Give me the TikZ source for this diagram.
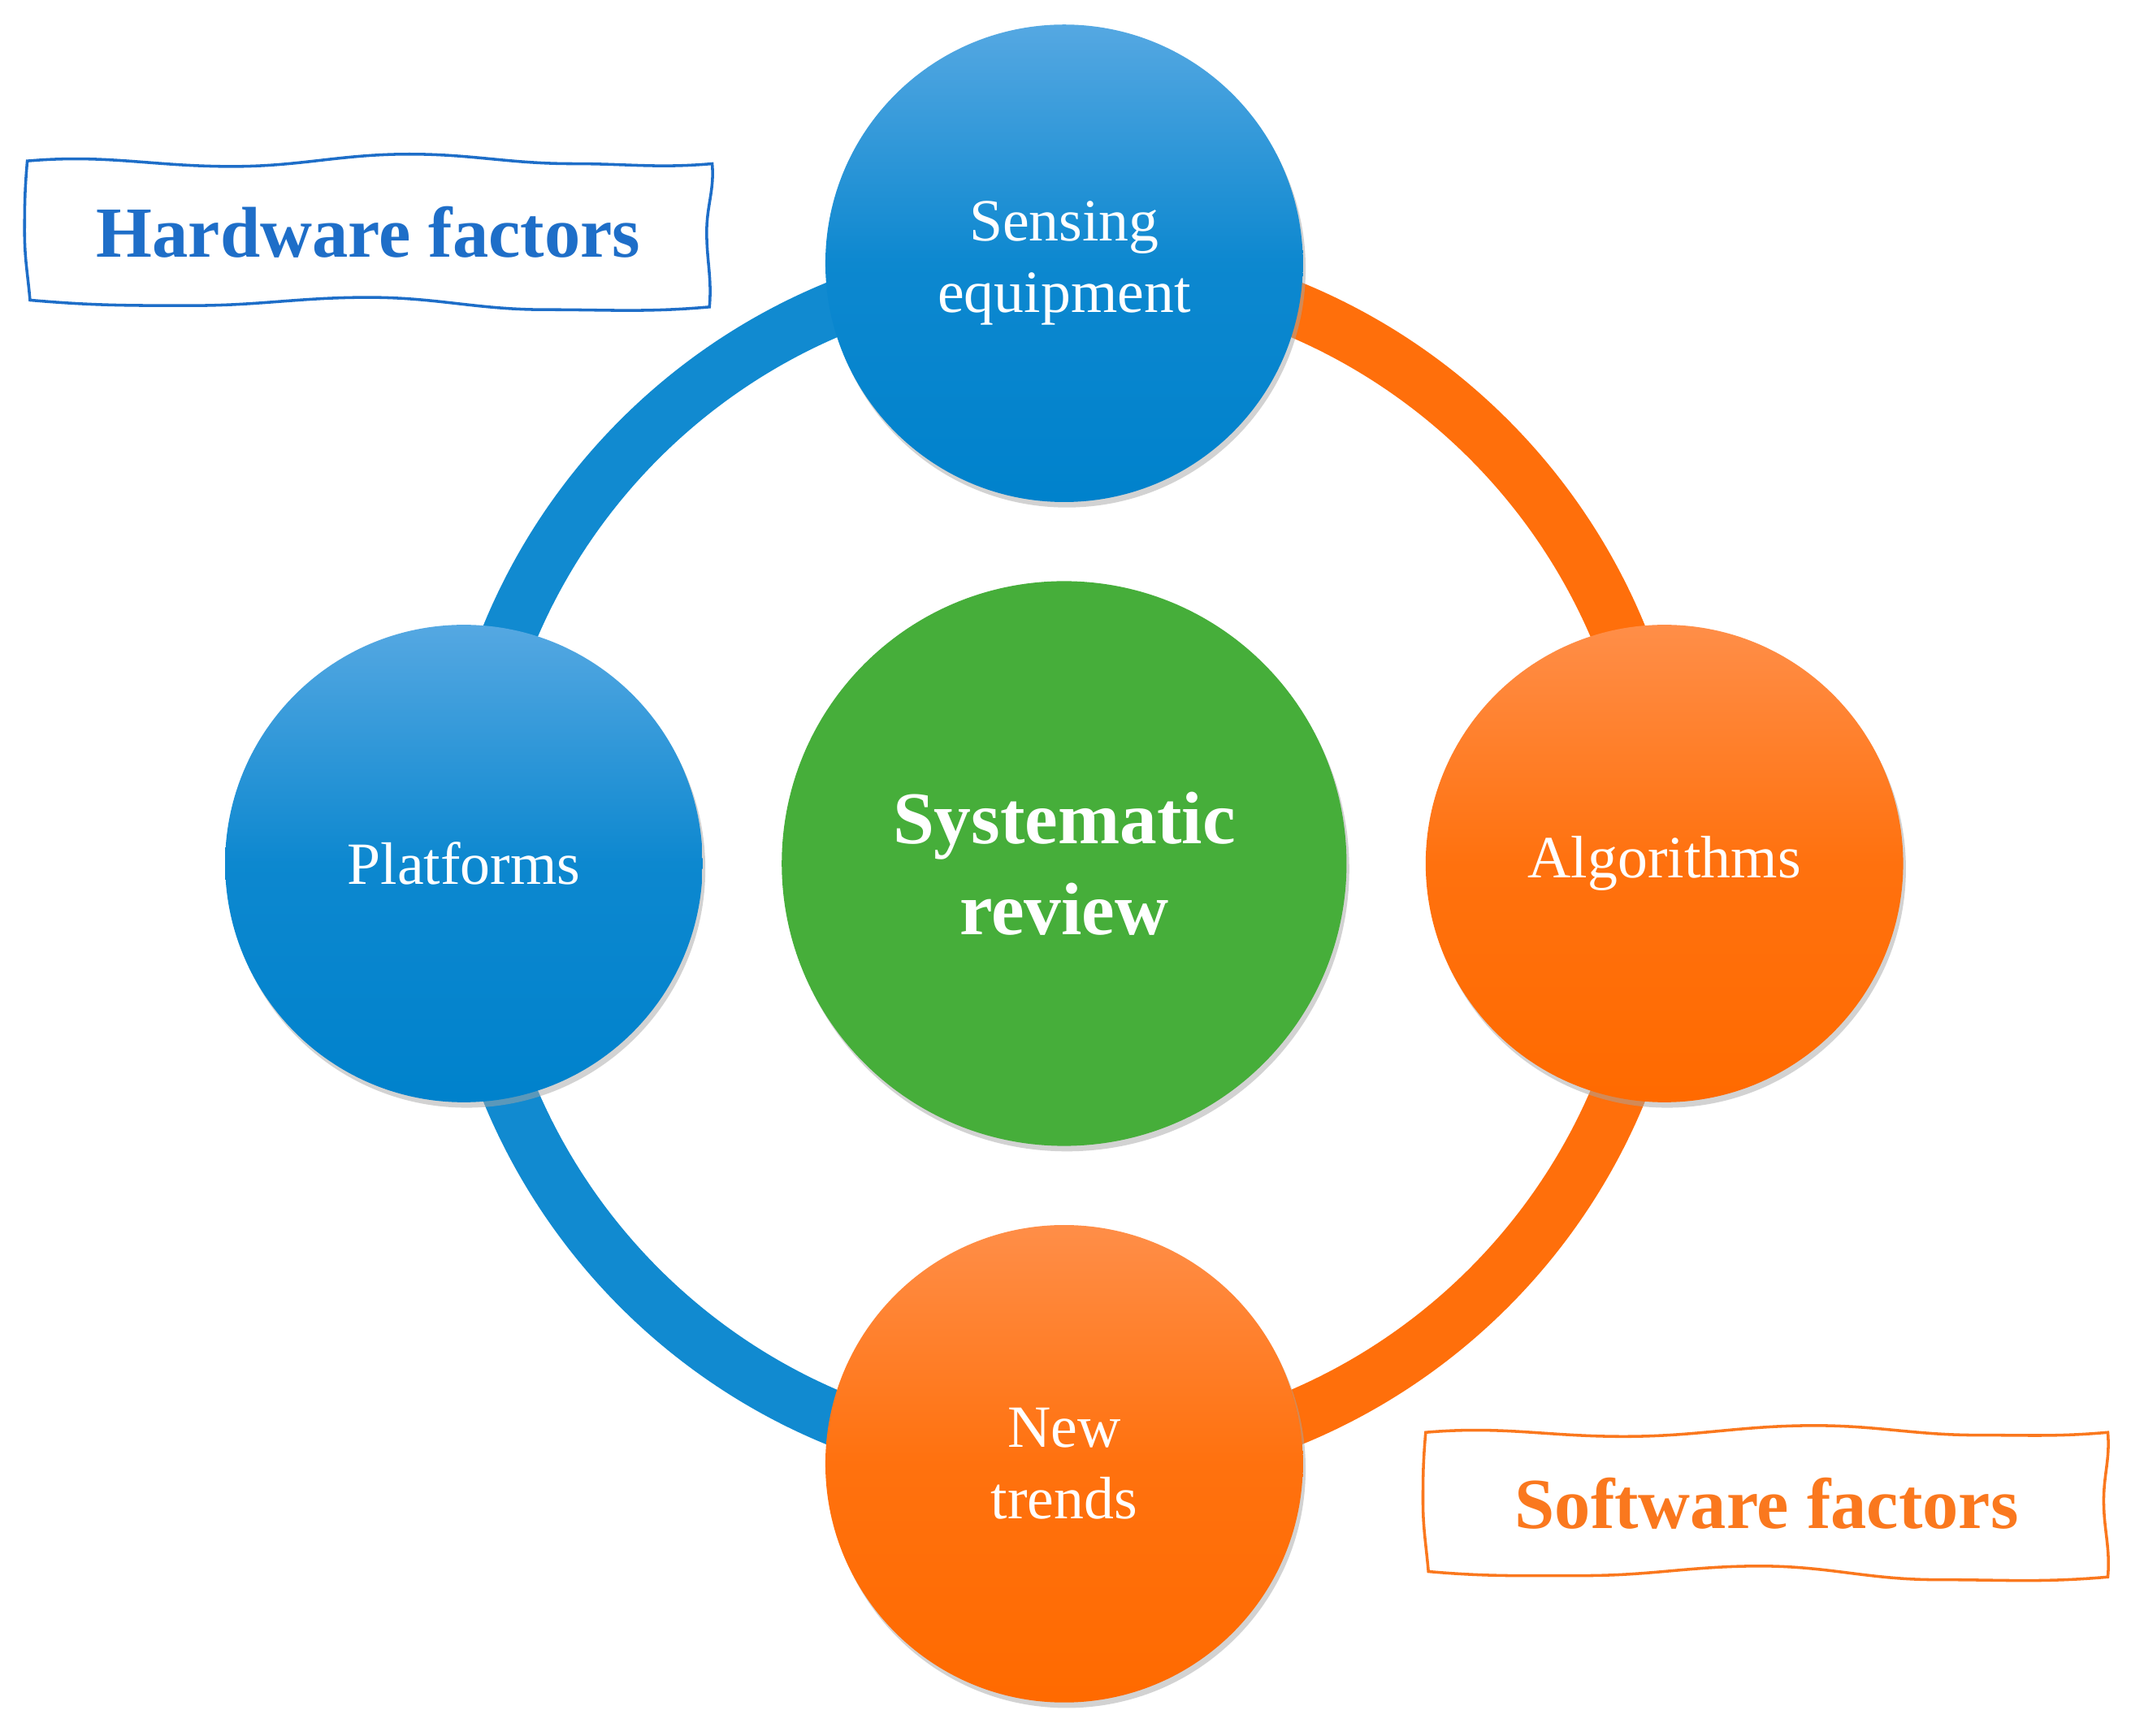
\documentclass[tikz,border=0pt]{standalone}
\usepackage{fontspec}
\setmainfont{Liberation Serif}
\usetikzlibrary{shadows}
\definecolor{bluetop}{RGB}{85,168,226}
\definecolor{bluebot}{RGB}{0,130,204}
\definecolor{orgtop}{RGB}{255,142,72}
\definecolor{orgbot}{RGB}{255,106,0}
\definecolor{grn}{RGB}{70,174,58}
\definecolor{hwblue}{RGB}{30,110,200}
\definecolor{swor}{RGB}{250,120,30}
\tikzset{
  ball/.style={circle,minimum size=350*0.02cm,inner sep=0pt,align=center,text=white,
     drop shadow={shadow xshift=0.04cm,shadow yshift=-0.08cm,fill=black!35,opacity=0.5},
     font=\fontsize{25}{30}\selectfont},
  bball/.style={ball,top color=bluetop,bottom color=bluebot,middle color=bluebot!85!bluetop},
  oball/.style={ball,top color=orgtop,bottom color=orgbot,middle color=orgbot!80!orgtop},
  lbl/.style={font=\fontsize{30}{36}\selectfont\bfseries}
}
\begin{document}
\begin{tikzpicture}[x=0.02cm,y=-0.02cm]
\useasboundingbox (0,0) rectangle (1562,1272);
% ring
\draw[line width=40*0.02cm,bluebot!80!bluetop] (780,193) arc[start angle=-90,end angle=-270,radius=440];
\draw[line width=40*0.02cm,orgbot!85!orgtop] (780,193) arc[start angle=-90,end angle=90,radius=440];
% nodes
\node[bball] (sense) at (780,193) {Sensing\\equipment};
\node[bball] (plat) at (340,633) {Platforms};
\node[oball] (alg) at (1220,633) {Algorithms};
\node[oball] (trend) at (780,1073) {New\\trends};
\node[ball,minimum size=414*0.02cm,fill=grn,font=\fontsize{31}{38}\selectfont\bfseries] (sys) at (780,633) {Systematic\\review};
% wavy boxes
\draw[hwblue,line width=1.2pt] (20,118) to[out=5,in=180] (170,122) to[out=0,in=180] (300,113) to[out=0,in=180] (420,120) to[out=0,in=185] (522,120)
  to[out=-85,in=90] (518,170) to[out=-90,in=85] (520,225)
  to[out=185,in=0] (400,227) to[out=180,in=0] (270,218) to[out=180,in=0] (140,224) to[out=180,in=-5] (22,220)
  to[out=95,in=-90] (18,170) to[out=90,in=-95] (20,118) -- cycle;
\node[lbl,text=hwblue] (hw) at (270,170) {Hardware factors};
\draw[swor,line width=1.2pt] (1045,1050) to[out=5,in=180] (1190,1053) to[out=0,in=180] (1330,1045) to[out=0,in=180] (1450,1052) to[out=0,in=185] (1545,1050)
  to[out=-85,in=90] (1542,1100) to[out=-90,in=85] (1545,1156)
  to[out=185,in=0] (1420,1158) to[out=180,in=0] (1290,1148) to[out=180,in=0] (1160,1155) to[out=180,in=-5] (1047,1152)
  to[out=95,in=-90] (1043,1100) to[out=90,in=-95] (1045,1050) -- cycle;
\node[lbl,text=swor] (sw) at (1295,1102) {Software factors};
\end{tikzpicture}
\end{document}
